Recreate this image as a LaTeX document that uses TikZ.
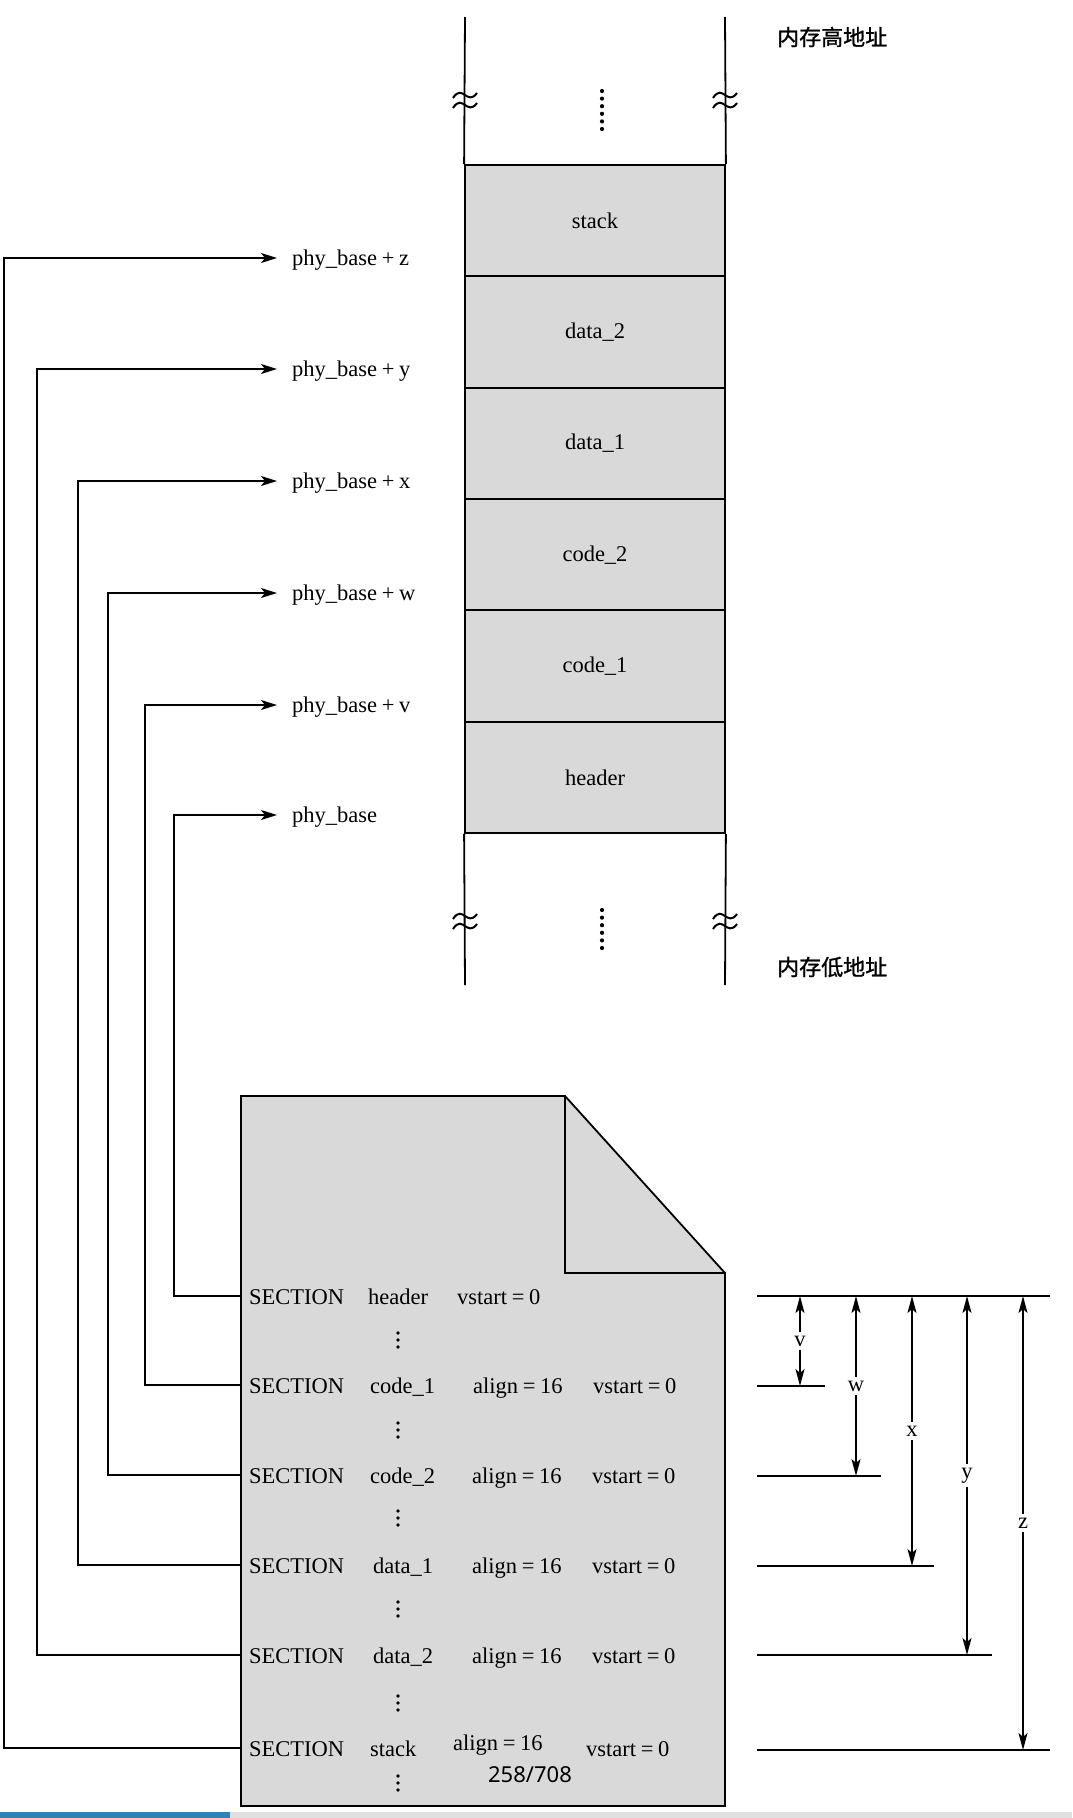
\documentclass[tikz,border=0pt]{standalone}
\usepackage{fontspec}
\setmainfont{Liberation Serif}
\newfontfamily\cjk[FakeBold=1.2]{Noto Sans CJK SC}
\newfontfamily\pgfont{Noto Sans}
\usetikzlibrary{arrows.meta}
\definecolor{cellgray}{HTML}{D9D9D9}
\definecolor{barblue}{HTML}{2E82B5}
\definecolor{bargray}{HTML}{E0E0E0}
\newcommand\fwp{\makebox[22pt]{+}}
\newcommand\fwe{\makebox[22pt]{=}}
\tikzset{
  txt/.style={font=\fontsize{22.5}{24}\selectfont, inner sep=0pt},
  cell/.style={draw, fill=cellgray, line width=1.8pt, minimum width=260pt,
    minimum height=111.33pt, inner sep=0pt, font=\fontsize{22.5}{24}\selectfont},
  rail/.style={line width=1.8pt},
  conn/.style={line width=1.8pt, -{Stealth[length=16pt,width=10pt,inset=4pt]}},
  dimln/.style={line width=1.8pt},
  dimarr/.style={line width=1.8pt,
    {Stealth[length=17pt,width=9pt,inset=4pt]}-{Stealth[length=17pt,width=9pt,inset=4pt]}},
  dimlbl/.style={fill=white, inner xsep=1pt, inner ysep=4pt, font=\fontsize{22.5}{24}\selectfont},
  plabel/.style={txt, anchor=west, inner xsep=15pt, text height=17pt, text depth=3pt},
  seclbl/.style={txt, anchor=west, inner xsep=8pt, text height=17pt, text depth=0pt},
  squig/.pic={
    \draw[line width=2pt] (-12,-3) .. controls (-7,-11) and (-3,-8) .. (0,-6) .. controls (3,-4) and (7,-1) .. (12,-8);
    \draw[line width=2pt] (-12,7) .. controls (-7,-1) and (-3,2) .. (0,4) .. controls (3,6) and (7,9) .. (12,2);
  },
  cjklbl/.style={anchor=west, inner sep=0pt, font=\cjk\fontsize{22}{24}\selectfont},
}
\begin{document}
\begin{tikzpicture}[x=1pt,y=-1pt]
\useasboundingbox (0,0) rectangle (1072,1818);

% ---------- memory column ----------
\node[cell] (mstack) at (595,220.67) {stack};
\node[cell] (mdata2) at (595,332) {data\_2};
\node[cell] (mdata1) at (595,443.33) {data\_1};
\node[cell] (mcode2) at (595,554.67) {code\_2};
\node[cell] (mcode1) at (595,666) {code\_1};
\node[cell] (mheader) at (595,777.33) {header};

\coordinate (tl) at (465,17);
\coordinate (tr) at (725,17);
\coordinate (bl) at (465,985);
\coordinate (br) at (725,985);
\draw[rail] (tl) -- (mstack.north west);
\draw[rail] (tr) -- (mstack.north east);
\draw[rail] (mheader.south west) -- (bl);
\draw[rail] (mheader.south east) -- (br);

\pic at (465,101) {squig};
\pic at (725,101) {squig};
\pic at (465,922) {squig};
\pic at (725,922) {squig};

\foreach \i in {0,...,5} {
  \fill (602,91+7.6*\i) circle (2.1pt);
  \fill (602,910+7.6*\i) circle (2.1pt);
}

\node[cjklbl] (hi) at (777,37) {内存高地址};
\node[cjklbl] (lo) at (777,967) {内存低地址};

% ---------- address labels ----------
\node[plabel] (lz) at (277,258) {phy\_base\fwp z};
\node[plabel] (ly) at (277,369) {phy\_base\fwp y};
\node[plabel] (lx) at (277,481) {phy\_base\fwp x};
\node[plabel] (lw) at (277,593) {phy\_base\fwp w};
\node[plabel] (lv) at (277,705) {phy\_base\fwp v};
\node[plabel] (l0) at (277,815) {phy\_base};

% ---------- document ----------
\draw[fill=cellgray, line width=1.8pt] (241,1096) -- (565,1096) -- (725,1273)
  -- (725,1806) -- (241,1806) -- cycle;
\draw[line width=1.8pt] (565,1096) -- (565,1273) -- (725,1273);

\node[seclbl] (s0) at (241,1296) {SECTION};
\node[seclbl] (s1) at (241,1385) {SECTION};
\node[seclbl] (s2) at (241,1475) {SECTION};
\node[seclbl] (s3) at (241,1565) {SECTION};
\node[seclbl] (s4) at (241,1655) {SECTION};
\node[seclbl] (s5) at (241,1748) {SECTION};

\node[txt, anchor=base west] (n0) at (368,1304.5) {header};
\node[txt, anchor=base west] (v0s) at (457,1304.5) {vstart\fwe 0};

\node[txt, anchor=base west] (n1) at (370,1393.5) {code\_1};
\node[txt, anchor=base west] (a1) at (473,1393.5) {align\fwe 16};
\node[txt, anchor=base west] (v1s) at (593,1393.5) {vstart\fwe 0};

\node[txt, anchor=base west] (n2) at (370,1483.5) {code\_2};
\node[txt, anchor=base west] (a2) at (472,1483.5) {align\fwe 16};
\node[txt, anchor=base west] (v2s) at (592,1483.5) {vstart\fwe 0};

\node[txt, anchor=base west] (n3) at (373,1573.5) {data\_1};
\node[txt, anchor=base west] (a3) at (472,1573.5) {align\fwe 16};
\node[txt, anchor=base west] (v3s) at (592,1573.5) {vstart\fwe 0};

\node[txt, anchor=base west] (n4) at (373,1663.5) {data\_2};
\node[txt, anchor=base west] (a4) at (472,1663.5) {align\fwe 16};
\node[txt, anchor=base west] (v4s) at (592,1663.5) {vstart\fwe 0};

\node[txt, anchor=base west] (n5) at (370,1756.5) {stack};
\node[txt, anchor=base west] (a5) at (453,1750.5) {align\fwe 16};
\node[txt, anchor=base west] (v5s) at (586,1756.5) {vstart\fwe 0};

\foreach \c in {1340,1430,1518,1609,1703,1783} {
  \fill (398,\c-7) circle (1.9pt);
  \fill (398,\c) circle (1.9pt);
  \fill (398,\c+7) circle (1.9pt);
}

\node[font=\pgfont\fontsize{22}{24}\selectfont, inner sep=0pt] (pg) at (530,1775) {258/708};

% ---------- connectors ----------
\coordinate (c0) at (174,0);
\coordinate (cv) at (145,0);
\coordinate (cw) at (108,0);
\coordinate (cx) at (78,0);
\coordinate (cy) at (37,0);
\coordinate (cz) at (4,0);
\draw[conn] (s0.west) -- (s0.west -| c0) |- (l0.west);
\draw[conn] (s1.west) -- (s1.west -| cv) |- (lv.west);
\draw[conn] (s2.west) -- (s2.west -| cw) |- (lw.west);
\draw[conn] (s3.west) -- (s3.west -| cx) |- (lx.west);
\draw[conn] (s4.west) -- (s4.west -| cy) |- (ly.west);
\draw[conn] (s5.west) -- (s5.west -| cz) |- (lz.west);

% ---------- dimensions ----------
\coordinate (d0) at (757,1296);
\coordinate (d1) at (757,1386);
\coordinate (d2) at (757,1476);
\coordinate (d3) at (757,1566);
\coordinate (d4) at (757,1655);
\coordinate (d5) at (757,1750);
\draw[dimln] (d0) -- ++(293,0);
\draw[dimln] (d1) -- ++(68,0);
\draw[dimln] (d2) -- ++(124,0);
\draw[dimln] (d3) -- ++(177,0);
\draw[dimln] (d4) -- ++(235,0);
\draw[dimln] (d5) -- ++(293,0);
\draw[dimarr] (800,1296) -- node[dimlbl] (dv) {v} (800,1386);
\draw[dimarr] (856,1296) -- node[dimlbl] (dw) {w} (856,1476);
\draw[dimarr] (912,1296) -- node[dimlbl] (dx) {x} (912,1566);
\draw[dimarr] (967,1296) -- node[dimlbl] (dy) {y} (967,1655);
\draw[dimarr] (1023,1296) -- node[dimlbl] (dz) {z} (1023,1750);

% ---------- bottom bar ----------
\fill[barblue] (0,1812) rectangle (230,1818);
\fill[bargray] (230,1812) rectangle (1072,1818);
\end{tikzpicture}
\end{document}
